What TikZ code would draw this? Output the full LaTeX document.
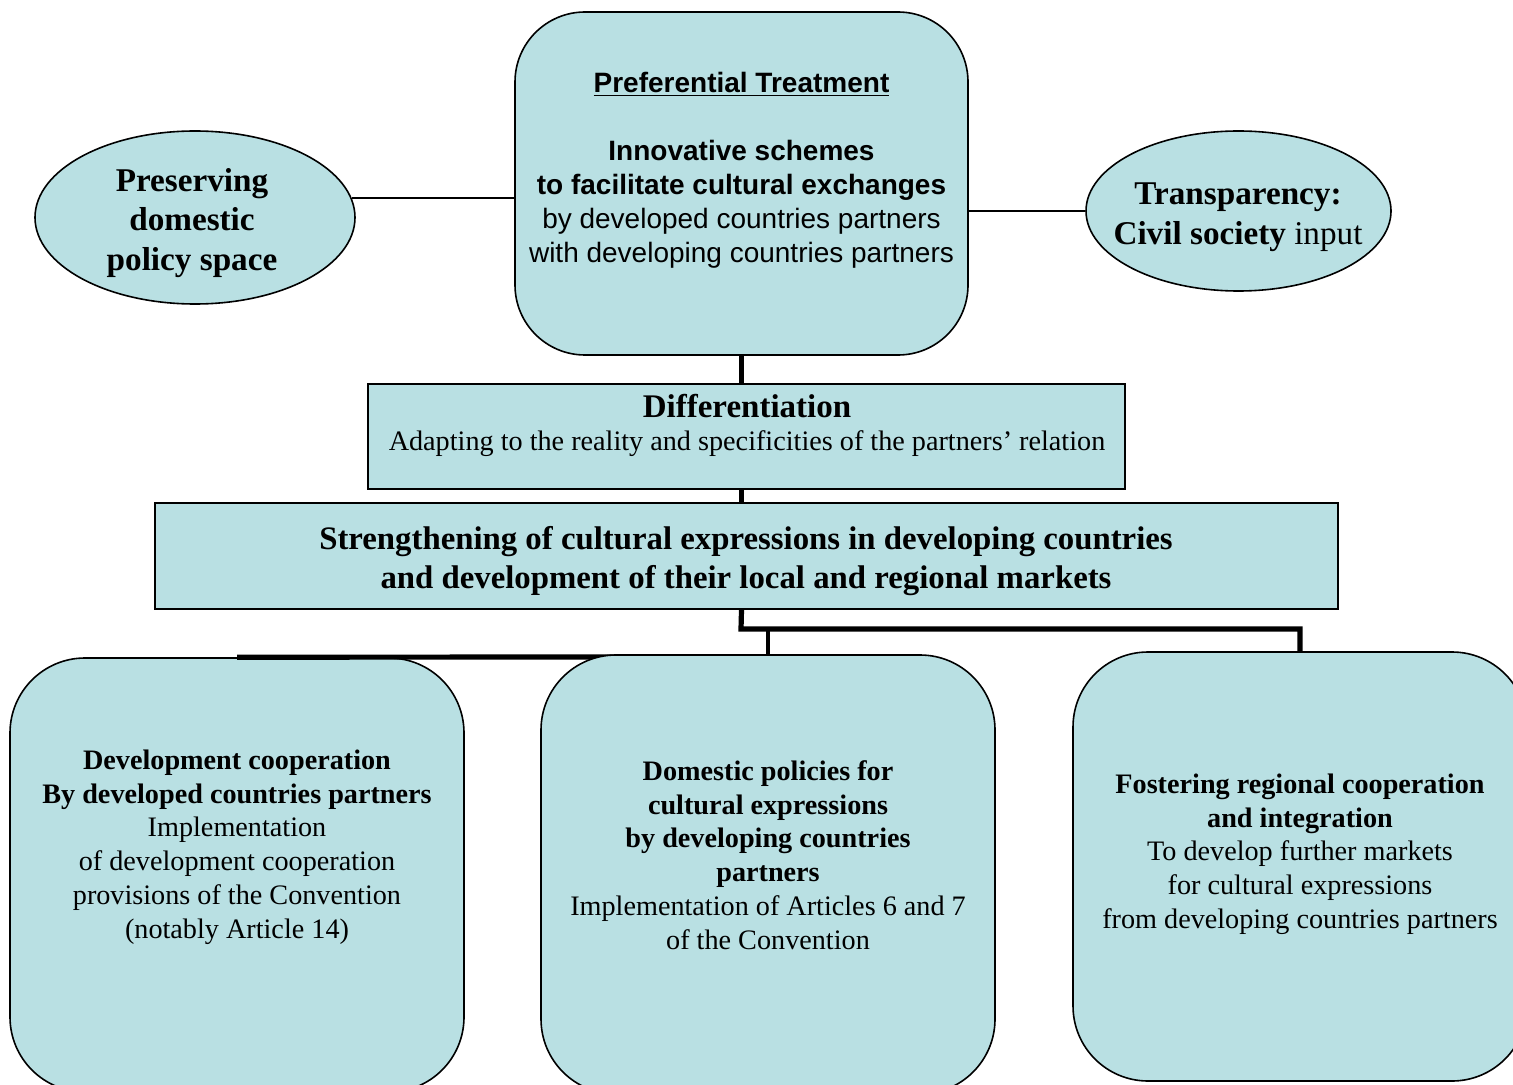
\documentclass[tikz,border=0pt]{standalone}
\usepackage{fontspec}
\setmainfont{Liberation Serif}
\setsansfont{Liberation Sans}
\usetikzlibrary{shapes.geometric}
\definecolor{boxfill}{RGB}{185,224,227}
\begin{document}
\begin{tikzpicture}[x=0.5pt,y=-0.5pt,
  shp/.style={draw=black, line width=0.8pt, fill=boxfill, inner sep=0pt},
  rbox/.style={shp, rectangle, rounded corners=#1},
  sqbox/.style={shp, rectangle},
  oval/.style={shp, ellipse},
  thinline/.style={line width=0.9pt},
  midline/.style={line width=1.6pt},
  heavy/.style={line width=2.6pt},
  txt/.style={align=center, inner sep=0pt, font=\fontsize{14.1}{16.85}\selectfont},
  sanstxt/.style={align=center, inner sep=0pt, font=\sffamily\fontsize{14}{17}\selectfont},
  bigtxt/.style={align=center, inner sep=0pt, font=\fontsize{16.6}{19.75}\selectfont},
]
\useasboundingbox (0,0) rectangle (1513,1085);
\begin{scope}
\clip (0,0) rectangle (1513,1085);

% top row
\node[rbox=35pt, minimum width=226.5pt, minimum height=171.5pt] (top) at (741.5,183.5) {};
\node[oval, minimum width=160pt, minimum height=86.5pt] (lell) at (195,217.5) {};
\node[oval, minimum width=152.5pt, minimum height=80pt] (rell) at (1238.5,211) {};
\draw[thinline] (lell.7) -- (lell.7 -| top.west);
\draw[thinline] (rell.west -| top.east) -- (rell.west);

% middle rows
\node[sqbox, minimum width=378.5pt, minimum height=52.5pt] (diff) at (746.5,436.5) {};
\node[sqbox, minimum width=591.5pt, minimum height=53pt] (str) at (746.5,556) {};
\draw[heavy] (top.south) -- (top.south |- diff.north);
\draw[heavy] (top.south |- diff.south) -- (top.south |- str.north);

% bottom row
\node[rbox=37.5pt, minimum width=227pt, minimum height=217pt] (b1) at (237,875) {};
\coordinate (lj) at (640,657);
\draw[heavy] (b1.north) -- (lj);
\node[rbox=37.5pt, minimum width=227pt, minimum height=219.5pt] (b2) at (768,874.5) {};
\node[rbox=37.5pt, minimum width=227pt, minimum height=214.5pt] (b3) at (1300,866.5) {};
\coordinate (bj) at (741,629);
\draw[heavy] (top.south |- str.south) -- (bj) -| (b3.north);
\draw[midline] (bj) -| (b2.north);

% texts
\node[sanstxt] (ttop) at (741.5,170.5) {\textbf{\underline{Preferential Treatment}}\\[17pt]
  \textbf{Innovative schemes}\\
  \textbf{to facilitate cultural exchanges}\\
  by developed countries partners\\
  with developing countries partners};
\node[bigtxt, font=\bfseries\fontsize{16.6}{19.75}\selectfont] (tlell) at (192,223) {Preserving\\domestic\\policy space};
\node[bigtxt] (trell) at (1238,217) {\textbf{Transparency:}\\\textbf{Civil society} input};
\node[align=center, inner sep=0pt] (tdiff) at (747,425.5) {{\bfseries\fontsize{16.5}{18}\selectfont Differentiation}\\[4.5pt]
  {\fontsize{14.1}{18}\selectfont Adapting to the reality and specificities of the partners’ relation}};
\node[bigtxt, font=\bfseries\fontsize{16.4}{19.5}\selectfont] (tstr) at (746,561.5) {Strengthening of cultural expressions in developing countries\\and development of their local and regional markets};
\node[txt] (tb1) at (237,847) {\textbf{Development cooperation}\\\textbf{By developed countries partners}\\Implementation\\of development cooperation\\provisions of the Convention\\(notably Article 14)};
\node[txt] (tb2) at (768,855) {\textbf{Domestic policies for}\\\textbf{cultural expressions}\\\textbf{by developing countries}\\\textbf{partners}\\Implementation of Articles 6 and 7\\of the Convention};
\node[txt] (tb3) at (1300,854) {\textbf{Fostering regional cooperation}\\\textbf{and integration}\\To develop further markets\\for cultural expressions\\from developing countries partners};
\end{scope}
\end{tikzpicture}
\end{document}
